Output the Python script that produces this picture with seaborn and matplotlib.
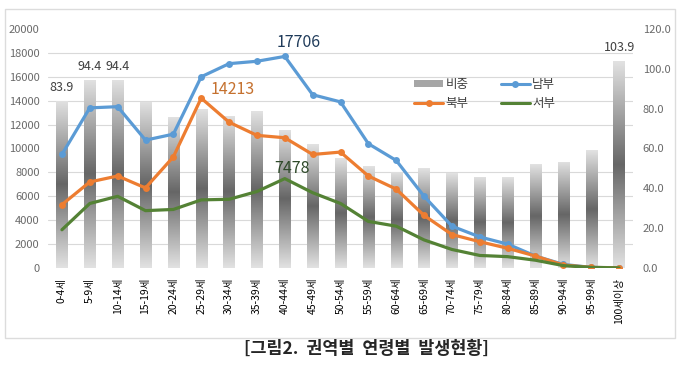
import numpy as np
import pandas as pd
import matplotlib.pyplot as plt
import seaborn as sns
from matplotlib.colors import LinearSegmentedColormap
from matplotlib.patches import Patch, Rectangle
from matplotlib.lines import Line2D

# Data
ages = ['0-4세', '5-9세', '10-14세', '15-19세', '20-24세', '25-29세', '30-34세',
        '35-39세', '40-44세', '45-49세', '50-54세', '55-59세', '60-64세', '65-69세',
        '70-74세', '75-79세', '80-84세', '85-89세', '90-94세', '95-99세', '100세이상']
ratio = [83.9, 94.4, 94.4, 83.5, 76.0, 79.8, 76.5, 78.8, 69.3, 62.1, 55.0,
         51.2, 48.4, 50.0, 47.5, 45.9, 45.6, 52.1, 53.4, 59.2, 103.9]
south = [9500, 13400, 13500, 10700, 11200, 16000, 17100, 17300, 17706, 14500, 13900,
         10400, 9000, 6000, 3500, 2600, 2000, 1000, 300, 50, 20]
north = [5300, 7200, 7700, 6700, 9300, 14213, 12200, 11100, 10900, 9500, 9700,
         7700, 6600, 4400, 2800, 2200, 1650, 1000, 250, 50, 20]
west = [3200, 5400, 6000, 4800, 4900, 5700, 5750, 6400, 7478, 6300, 5400,
        3900, 3500, 2350, 1550, 1050, 950, 650, 200, 50, 10]
ratio_labels = [0, 1, 2, 20]

colors = {'남부': '#5b9bd5', '북부': '#ed7d31', '서부': '#548235'}

df = pd.DataFrame({'age': ages, 'ratio': ratio, '남부': south, '북부': north, '서부': west})

sns.set_theme(style='white')
plt.rcParams['font.family'] = ['Noto Sans CJK KR', 'DejaVu Sans']

fig = plt.figure(figsize=(6.8, 3.73), dpi=100)
ax = fig.add_axes([48 / 680, 1 - 268 / 373, 585 / 680, 239 / 373])
ax2 = ax.twinx()

# ratio bars (right axis) with a vertical grey gradient
sns.barplot(data=df, x='age', y='ratio', ax=ax2, width=0.4, color='#a0a0a0')
cmap = LinearSegmentedColormap.from_list('bar', ['#e2e2e2', '#666666', '#e2e2e2'])
grad = np.linspace(0, 1, 256).reshape(-1, 1)
for p in list(ax2.patches):
    x0, y0, w, h = p.get_x(), p.get_y(), p.get_width(), p.get_height()
    im = ax2.imshow(grad, extent=[x0, x0 + w, y0, y0 + h], origin='lower',
                    aspect='auto', cmap=cmap, zorder=2)
    im.set_clip_path(p)
    p.set_facecolor('none')
    p.set_edgecolor('none')

# region lines (left axis)
for name in ['남부', '북부', '서부']:
    sns.lineplot(data=df, x='age', y=name, ax=ax, color=colors[name], linewidth=2.3,
                 marker=None if name == '서부' else 'o', markersize=5,
                 markeredgewidth=0, sort=False)

ax.set_zorder(ax2.get_zorder() + 1)
ax.patch.set_visible(False)

ax.set_xlim(-0.5, len(ages) - 0.5)
ax.set_ylim(0, 20000)
ax2.set_ylim(0, 120)
ax.set_yticks(range(0, 20001, 2000))
ax2.set_yticks(range(0, 121, 20))
ax2.set_yticklabels([f'{v:.1f}' for v in range(0, 121, 20)])
ax2.set_yticks(np.arange(0, 121, 12), minor=True)
ax2.grid(which='minor', axis='y', color='#d9d9d9', linewidth=0.8)
ax2.grid(which='major', visible=False)
ax2.set_axisbelow(True)

ax.set_xticks(np.arange(len(ages)))
ax.set_xticklabels(ages, rotation=90, fontsize=7.5, color='black')
ax.tick_params(axis='x', length=0, pad=7)
ax.tick_params(axis='y', length=0, labelsize=8, labelcolor='#6a6a6a', pad=6)
ax2.tick_params(axis='y', which='both', length=0, labelsize=8, labelcolor='#6a6a6a', pad=7)
ax.set_xlabel('')
ax.set_ylabel('')
ax2.set_ylabel('')
ax2.set_xlabel('')
for a in (ax, ax2):
    for s in a.spines.values():
        s.set_visible(False)

# labels
for i in ratio_labels:
    ax2.annotate(f'{ratio[i]:.1f}', (i, ratio[i]), xytext=(0, 10), textcoords='offset points',
                 ha='center', va='center', fontsize=9, color='#404040')
i = int(np.argmax(south))
ax.annotate(f'{south[i]}', (i, south[i]), xytext=(10, 10), textcoords='offset points',
            ha='center', va='center', fontsize=11.5, color='#1f3b5a')
i = int(np.argmax(north))
ax.annotate(f'{north[i]}', (i, north[i]), xytext=(23, 6.5), textcoords='offset points',
            ha='center', va='center', fontsize=11.5, color='#c5712f')
i = int(np.argmax(west))
ax.annotate(f'{west[i]}', (i, west[i]), xytext=(5, 7.5), textcoords='offset points',
            ha='center', va='center', fontsize=11.5, color='#2f4a2a')

handles = [Patch(facecolor='#a6a6a6', edgecolor='none'),
           Line2D([], [], color=colors['북부'], lw=2.2, marker='o', ms=5, mew=0),
           Line2D([], [], color=colors['남부'], lw=2.2, marker='o', ms=5, mew=0),
           Line2D([], [], color=colors['서부'], lw=2.2)]
fig.legend(handles, ['비중', '북부', '남부', '서부'], ncol=2, loc='upper left',
           bbox_to_anchor=(403 / 680, 1 - 67 / 373), frameon=False, fontsize=9,
           handlelength=2.3, handleheight=0.5, columnspacing=2.6, labelspacing=0.45,
           handletextpad=0.2, labelcolor='#404040')

fig.add_artist(Rectangle((5 / 680, 1 - 338 / 373), 670 / 680, 329 / 373,
                         transform=fig.transFigure, fill=False,
                         edgecolor='#dcdcdc', linewidth=1))
fig.text(366 / 680, 1 - 349 / 373, '[그림2.  권역별  연령별  발생현황]', ha='center',
         va='center', fontsize=12.5, fontweight='bold')

fig.savefig('out.png', dpi=100)
